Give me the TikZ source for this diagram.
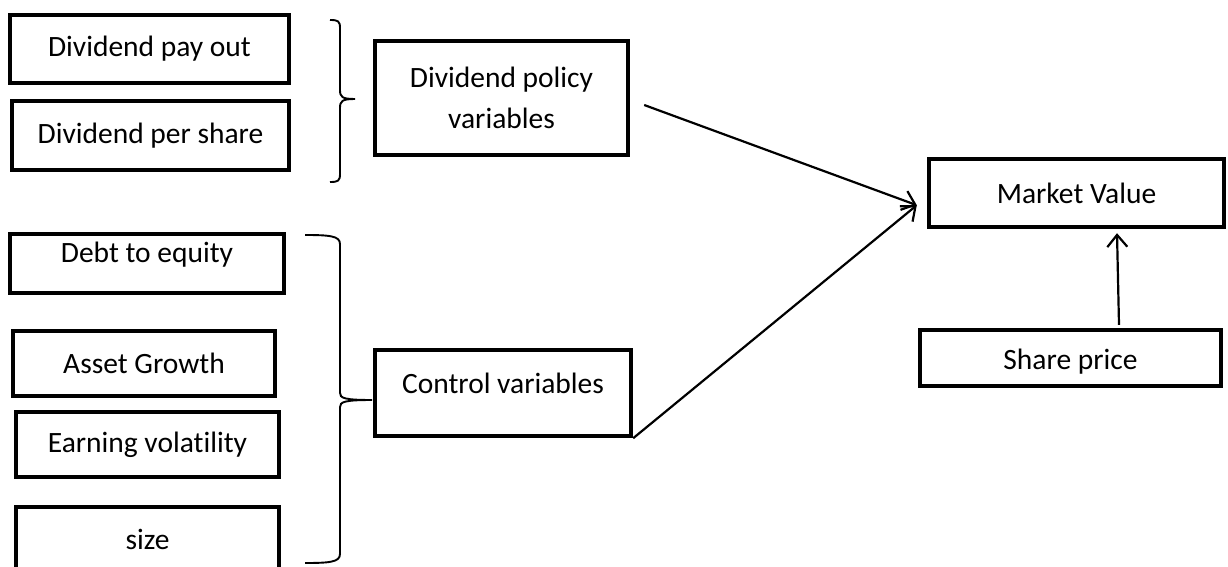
\documentclass[tikz,border=0pt]{standalone}
\usepackage{fontspec}
\setmainfont[Ligatures=NoCommon]{Carlito}
\usetikzlibrary{arrows.meta,calc}
\begin{document}
\begin{tikzpicture}[x=1pt,y=-1pt,
  box/.style={draw,line width=4.4pt,rectangle,inner sep=0pt,align=center,
    font=\fontsize{29.5}{41}\selectfont},
  lab/.style={font=\fontsize{29.5}{36}\selectfont},
  conn/.style={line width=2.2pt,-{Straight Barb[length=12pt,width=20pt,line width=2.2pt]}},
  brc/.style={line width=1.9pt}]
\useasboundingbox (0,0) rectangle (1228,567);
\node[box,minimum width=279pt,minimum height=68pt] (dpo) at (149.5,49) {Dividend pay out};
\node[box,minimum width=277pt,minimum height=69pt] (dps) at (150.5,135.5) {Dividend per share};
\node[box,minimum width=253pt,minimum height=114pt] (dpv) at (501.5,98) {Dividend policy\\variables};
\node[box,minimum width=274pt,minimum height=59pt,
  label={[lab,yshift=9pt]center:Debt to equity}] (dte) at (147,263.5) {};
\node[box,minimum width=262pt,minimum height=65pt] (ag) at (144,363.5) {Asset Growth};
\node[box,minimum width=263pt,minimum height=65pt] (ev) at (147.5,444.5) {Earning volatility};
\node[box,minimum width=263pt,minimum height=86pt,
  label={[lab,yshift=11pt]center:size}] (sz) at (147.5,550) {};
\node[box,minimum width=256pt,minimum height=86pt,
  label={[lab,yshift=10pt]center:Control variables}] (cv) at (503,393) {};
\node[box,minimum width=295pt,minimum height=68pt] (mv) at (1076.5,193) {Market Value};
\node[box,minimum width=301pt,minimum height=56pt,
  label={[lab,yshift=-4pt]center:Share price}] (sp) at (1070.5,358) {};
% braces
\draw[brc] (330,20) .. controls (338,20) and (340,21) .. (340,28) -- (340,90)
  .. controls (340,97) and (342,99) .. (355,99)
  .. controls (342,99) and (340,101) .. (340,108) -- (340,174)
  .. controls (340,181) and (338,182) .. (330,182);
\draw[brc] (305,235) .. controls (330,235) and (340,236) .. (340,244) -- (340,393)
  .. controls (340,398) and (344,400) .. (372,400)
  .. controls (344,400) and (340,402) .. (340,407) -- (340,554)
  .. controls (340,562) and (330,563) .. (305,563);
% connectors
\coordinate (mvin) at ($(mv.south west)+(-10,-24)$);
\coordinate (dpvout) at ($(dpv.east)+(14,7)$);
\coordinate (spout) at ($(sp.north)+(48.5,-3)$);
\coordinate (mvbot) at ($(mv.south)+(40.5,4)$);
\draw[conn] (dpvout) -- (mvin);
\draw[conn] (cv.south east) -- (mvin);
\draw[conn] (spout) -- (mvbot);
\end{tikzpicture}
\end{document}
